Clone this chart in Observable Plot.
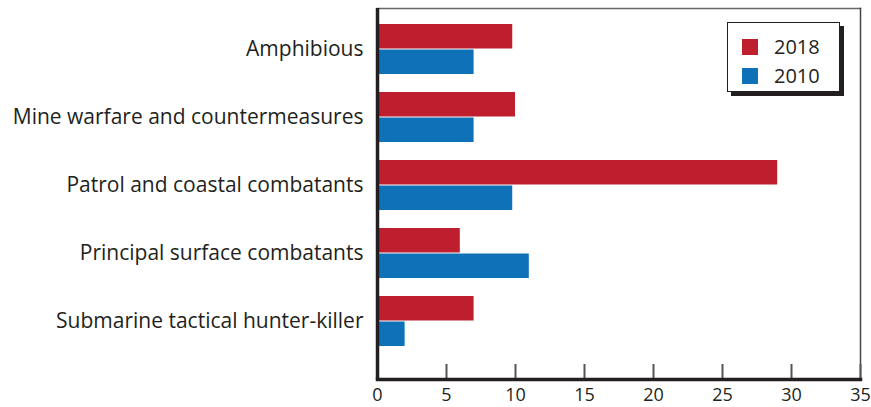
<!DOCTYPE html>
<html>
<head>
<meta charset="utf-8">
<script src="https://cdn.jsdelivr.net/npm/d3@7"></script>
<script src="https://cdn.jsdelivr.net/npm/@observablehq/plot@0.6"></script>
<style>
  html, body { margin: 0; padding: 0; background: #fff; }
  #wrap { position: relative; width: 871px; height: 407px; font-family: "Open Sans", sans-serif; color: #231f20; }
  #legend { position: absolute; left: 727px; top: 22px; width: 113px; height: 70px; background: #fff;
    border: 1px solid #231f20; box-shadow: 4px 4px 0 #231f20; box-sizing: border-box; }
  .item { position: absolute; left: 14px; display: flex; align-items: center; font-size: 20px; line-height: 20px; }
  .sw { width: 16px; height: 16px; margin-right: 16px; }
</style>
</head>
<body>
<div id="wrap"></div>
<script>
const categories = [
  "Amphibious",
  "Mine warfare and countermeasures",
  "Patrol and coastal combatants",
  "Principal surface combatants",
  "Submarine tactical hunter-killer"
];
const values2018 = [9.8, 10, 29, 6, 7];
const values2010 = [7, 7, 9.8, 11, 2];
const seriesNames = ["2018", "2010"];
const seriesColors = ["#be1e2d", "#0f71b8"];
const xTicks = [0, 5, 10, 15, 20, 25, 30, 35];

const data2018 = categories.map((c, i) => ({category: c, value: values2018[i]}));
const data2010 = categories.map((c, i) => ({category: c, value: values2010[i]}));

const ink = "#231f20";
const chart = Plot.plot({
  width: 871,
  height: 407,
  marginTop: 8,
  marginBottom: 28,
  marginLeft: 377,
  marginRight: 11,
  style: {fontFamily: "Open Sans, sans-serif", fontSize: "18px", color: ink, background: "#fff"},
  x: {domain: [0, 35], ticks: xTicks, label: null},
  y: {domain: categories, range: [4, 366.4], padding: 0.26, label: null},
  marks: [
    Plot.barX(data2018, {y: "category", x: "value", fill: seriesColors[0], insetBottom: 25.5}),
    Plot.barX(data2010, {y: "category", x: "value", fill: seriesColors[1], insetTop: 25.5}),
    Plot.frame({anchor: "top", stroke: "#666", strokeWidth: 1.5}),
    Plot.frame({anchor: "right", stroke: "#444", strokeWidth: 1.5}),
    Plot.axisX({ticks: xTicks, tickSize: -15, tickPadding: 24, stroke: "#555", strokeWidth: 2, fontSize: 18, fill: ink, label: null}),
    Plot.axisY({tickSize: 0, tickPadding: 14, fontSize: 21, fill: ink, label: null}),
    Plot.ruleX([0], {stroke: ink, strokeWidth: 3.5}),
    Plot.frame({anchor: "bottom", stroke: ink, strokeWidth: 3.5})
  ]
});

const wrap = document.getElementById("wrap");
wrap.appendChild(chart);

const legend = document.createElement("div");
legend.id = "legend";
seriesNames.forEach((name, i) => {
  const item = document.createElement("div");
  item.className = "item";
  item.style.top = (i === 0 ? 14 : 43) + "px";
  const sw = document.createElement("div");
  sw.className = "sw";
  sw.style.background = seriesColors[i];
  const t = document.createElement("span");
  t.textContent = name;
  item.appendChild(sw);
  item.appendChild(t);
  legend.appendChild(item);
});
wrap.appendChild(legend);
</script>
</body>
</html>
